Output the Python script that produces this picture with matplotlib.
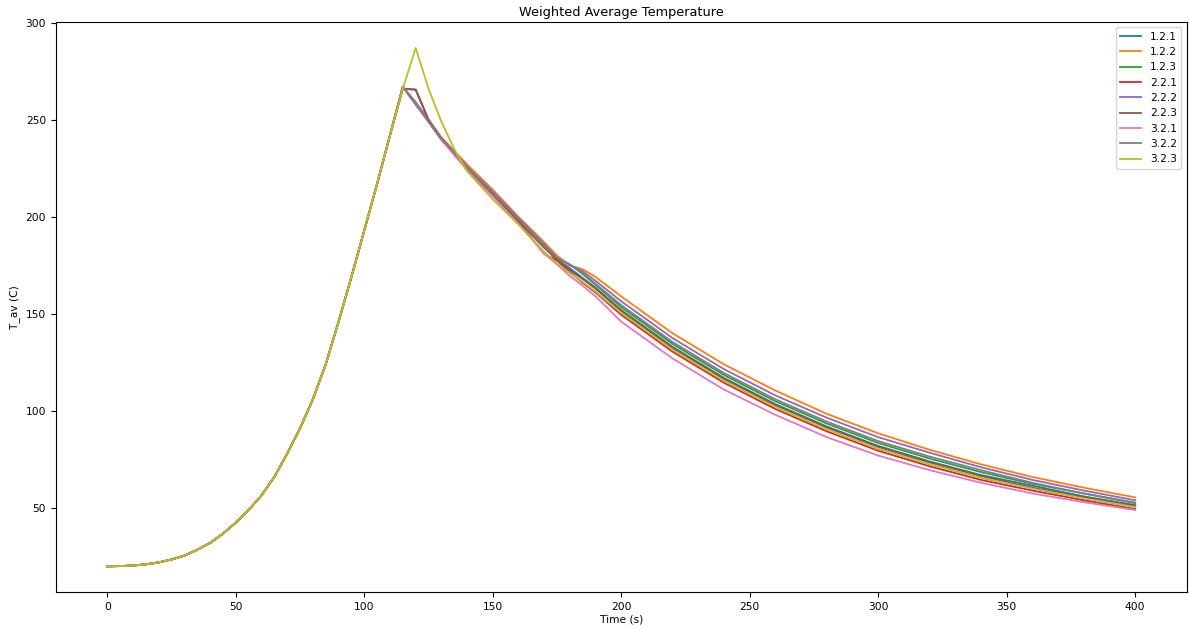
import matplotlib
matplotlib.use("Agg")
import matplotlib.pyplot as plt

# heating phase is the same for every case
rise_time = [0, 5, 10, 15, 20, 25, 30, 35, 40, 45, 50, 55, 60, 65, 70, 75, 80, 85,
             90, 95, 100, 105, 110]
rise_temp = [20, 20.1, 20.4, 21, 22, 23.5, 25.5, 28.5, 32, 36.8, 42.5, 49, 56.5, 66,
             78, 91, 106, 124, 146, 169, 193, 217, 242]

# peak and cooling phase, one list per case
cool_time = [115, 120, 125, 130, 135, 140, 150, 160, 170, 175, 180, 185, 190, 200,
             220, 240, 260, 280, 300, 320, 340, 360, 380, 400]

t_121 = [267, 258, 249, 240, 232.5, 225, 212, 198.5, 184.5, 178, 173.5, 168.5, 163.5, 152,
         133, 117, 103.5, 92, 82, 74, 67, 61.5, 56, 51.5]
t_122 = [267, 259, 250, 241, 234, 227, 214, 200, 187, 180, 175, 173, 169, 159,
         140, 124, 110.5, 98.5, 88.5, 80, 72.5, 66, 60.5, 55.5]
t_123 = [267, 258, 249, 240, 233, 225.5, 212.5, 199, 185, 178.5, 175.5, 170.5, 165, 153.5,
         134.5, 118.5, 105, 93.5, 83.5, 75.5, 68.5, 62.5, 57.5, 52.5]
t_221 = [266, 265.5, 250, 240, 232, 224.5, 211, 197.5, 181, 177.5, 171.5, 166, 161, 149.5,
         130.5, 114.5, 101, 89.5, 79.5, 71.5, 64.5, 59, 54, 49.5]
t_222 = [267, 259, 250, 240.5, 233.5, 226, 213, 199.5, 186, 179, 175, 172, 167, 156.5,
         137.5, 121.5, 108, 96.5, 86.5, 78.5, 71, 64.5, 59, 54]
t_223 = [266, 265.5, 250, 240, 232.5, 225, 211.5, 198, 184, 178, 172.5, 168, 163, 151.5,
         132.5, 116.5, 103, 91.5, 81.5, 73.5, 66.5, 60.5, 55.5, 51]
t_321 = [267, 258, 249, 239.5, 232, 224, 210.5, 196.5, 181, 175.5, 169.5, 164.5, 159, 146,
         127, 111, 98, 86.5, 77, 69.5, 63, 57.5, 53, 49]
t_322 = [267, 258, 249, 240, 233, 225.5, 212.5, 199, 185, 179, 175.5, 171, 165.5, 154.5,
         135.5, 119.5, 106, 94.5, 84.5, 76.5, 69.5, 63, 57.5, 52.8]
t_323 = [266, 287, 266, 249, 235, 223.5, 209, 196, 182, 176, 171, 166.5, 161.5, 150.5,
         131.5, 115.5, 102, 90.5, 80.5, 72.5, 65.5, 60, 55, 50.5]

labels = ["1.2.1", "1.2.2", "1.2.3", "2.2.1", "2.2.2", "2.2.3", "3.2.1", "3.2.2", "3.2.3"]
cases = [t_121, t_122, t_123, t_221, t_222, t_223, t_321, t_322, t_323]

plt.rcParams["font.size"] = 7.7

fig = plt.figure(figsize=(11.89, 6.28), dpi=100)
ax = fig.add_axes([0.047, 0.057, 0.951, 0.908])

for name, temps in zip(labels, cases):
    ax.plot(rise_time + cool_time, rise_temp + temps, label=name, linewidth=1.3)

ax.set_title("Weighted Average Temperature", pad=4)
ax.set_xlabel("Time (s)", labelpad=2)
ax.set_ylabel("T_av (C)")
ax.legend(loc="upper right")

fig.savefig("out.png", dpi=100)
